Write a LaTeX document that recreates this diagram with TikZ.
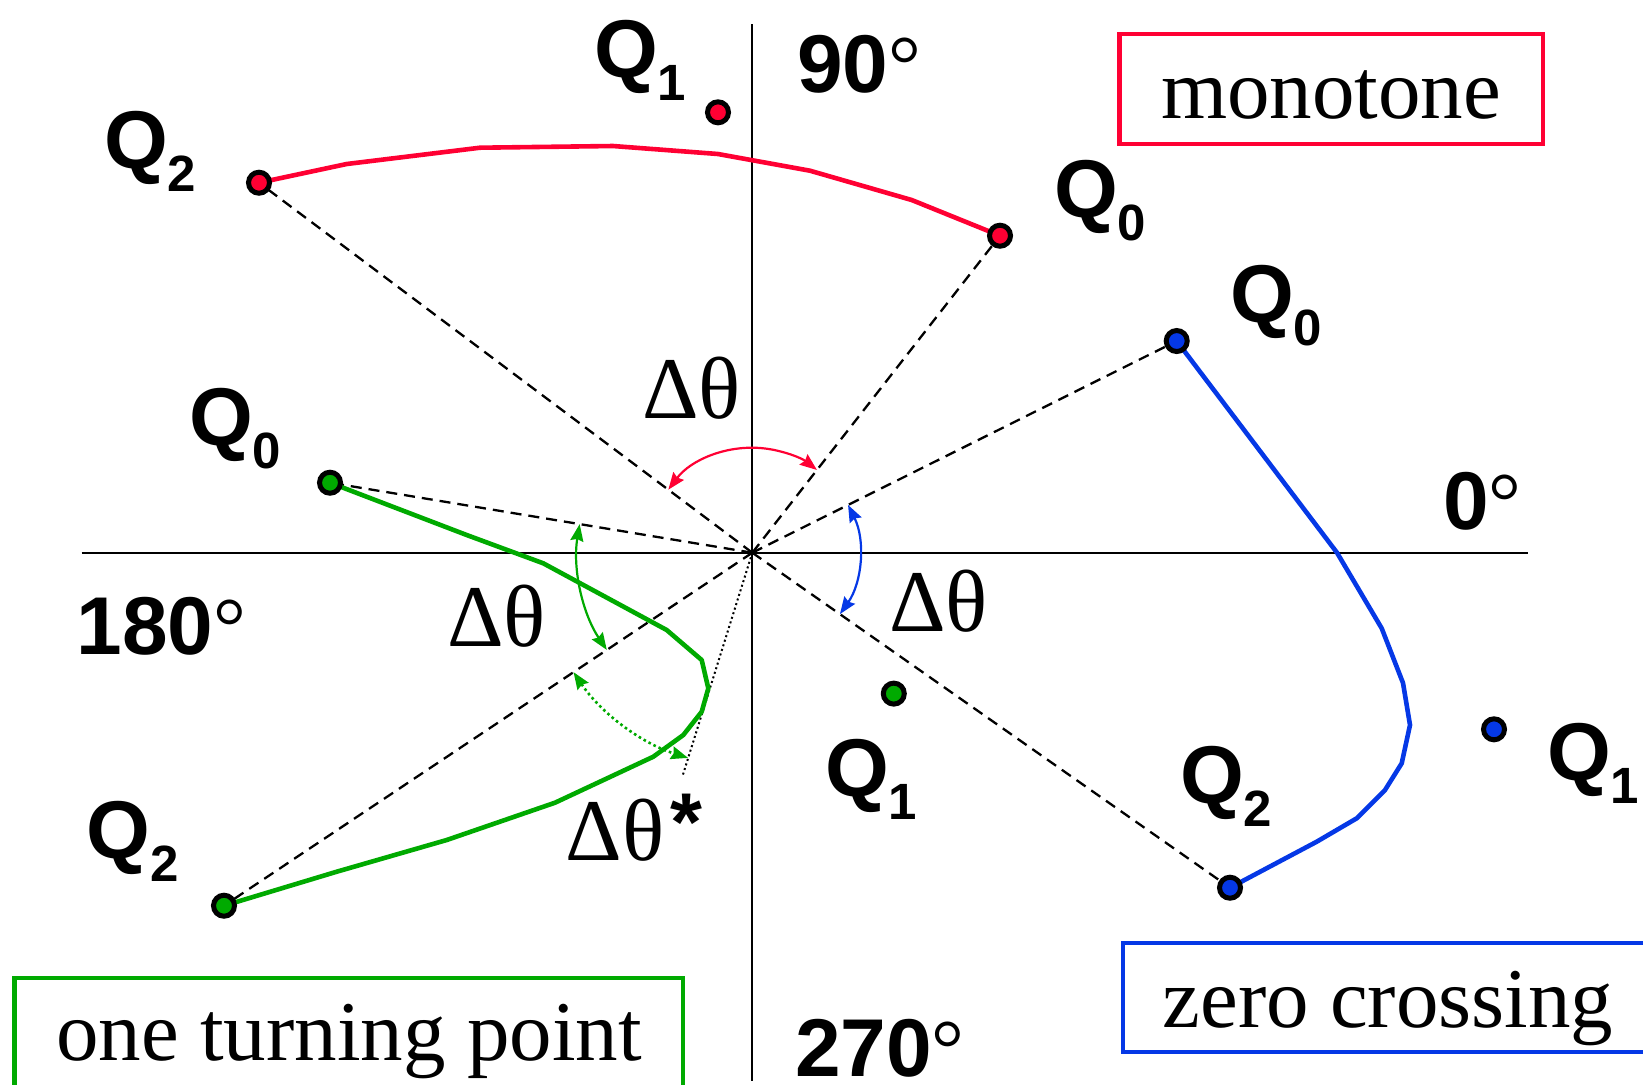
\documentclass[tikz,border=0pt]{standalone}
\usepackage{fontspec}
\setmainfont{Liberation Serif}
\newfontfamily\lsans{Liberation Sans}
\usetikzlibrary{arrows.meta,calc,backgrounds}
\definecolor{cred}{RGB}{255,0,51}
\definecolor{cblue}{RGB}{5,56,230}
\definecolor{cgreen}{RGB}{0,170,0}
\newcommand\Qlab[1]{{\lsans\bfseries\fontsize{41}{41}\selectfont Q}{\lsans\bfseries\fontsize{25.5}{25.5}\selectfont\raisebox{-11.5pt}{#1}}}
\newcommand\anglab[1]{{\lsans\bfseries\fontsize{41}{41}\selectfont #1}{\fontsize{41}{41}\selectfont °}}
\newcommand\dtheta{{\fontsize{44}{44}\selectfont Δθ}}
\begin{document}
\begin{tikzpicture}[x=0.5pt,y=0.5pt,
  dot/.style={circle, draw=black, line width=2.5pt, fill=#1, inner sep=0pt, minimum size=10.5pt},
  lab/.style={anchor=base west, inner sep=0pt, outer sep=0pt},
  curve/.style={line width=2.3pt, line join=round, draw=#1},
  ray/.style={line width=1.15pt, dash pattern=on 5.5pt off 3.5pt},
  dotray/.style={line width=1pt, dash pattern=on 1pt off 1.4pt},
  axis/.style={line width=1pt},
  tip/.tip={Stealth[length=8.5pt,width=6.5pt,inset=1pt]},
  angarc/.style={line width=1.1pt, draw=#1, tip-tip},
  boxst/.style={draw=#1, line width=2.25pt},
  boxtext/.style={anchor=base, inner sep=0pt, font=\fontsize{42.5}{42.5}\selectfont}]
\useasboundingbox (0,0) rectangle (1643,-1084);
\clip (0,0) rectangle (1643,-1084);

% points
\coordinate (O) at (752.3,-552.7);
\coordinate (xl) at (81.7,-552.7);
\coordinate (xr) at (1528,-552.7);
\coordinate (yt) at (752.3,-24);
\coordinate (yb) at (752.3,-1081);
\coordinate (dT) at (682.3,-776.7);

\node[dot=cred] (rQ2) at (259,-182.7) {};
\node[dot=cred] (rQ1) at (718,-112.3) {};
\node[dot=cred] (rQ0) at (1000,-235.7) {};
\node[dot=cblue] (bQ0) at (1176.7,-341) {};
\node[dot=cblue] (bQ1) at (1494,-729.3) {};
\node[dot=cblue] (bQ2) at (1230,-887.7) {};
\node[dot=cgreen] (gQ0) at (330,-482.7) {};
\node[dot=cgreen] (gQ1) at (893.8,-693.6) {};
\node[dot=cgreen] (gQ2) at (224,-905.7) {};

\begin{scope}[on background layer]
\draw[axis] (xl) -- (xr);
\draw[axis] (yt) -- (yb);
\draw[ray] (O) -- (rQ2.center);
\draw[ray] (O) -- (rQ0.center);
\draw[ray] (O) -- (bQ0.center);
\draw[ray] (O) -- (bQ2.center);
\draw[ray] (O) -- (gQ0.center);
\draw[ray] (O) -- (gQ2.center);
\draw[dotray] (O) -- (dT);
\draw[curve=cred] (rQ2.center) -- (346.7,-164) -- (480,-147.7) -- (613,-146) -- (718,-154) -- (810,-170.7) -- (911.7,-200) -- (rQ0.center);
\draw[curve=cblue] (bQ0.center) -- (1337,-552.7) -- (1381.7,-628.3) -- (1403,-683) -- (1410,-725) -- (1401.7,-763.3) -- (1385,-790) -- (1356.7,-818.3) -- (1316.7,-841.7) -- (bQ2.center);
\draw[curve=cgreen] (gQ0.center) -- (466.7,-535) -- (543.3,-563.3) -- (666.7,-630) -- (701.7,-660) -- (708.3,-688.3) -- (701.7,-711.7) -- (683.3,-735) -- (653.3,-756.7) -- (555,-802.7) -- (446.7,-840) -- (336.7,-871.7) -- (gQ2.center);
\draw[angarc=cred] ($(O)+(143.1:52.5pt)$) arc[start angle=143.1, end angle=52, radius=52.5pt];
\draw[angarc=cblue] ($(O)+(26.5:53.5pt)$) arc[start angle=26.5, end angle=-35, radius=53.5pt];
\draw[angarc=cgreen] ($(O)+(170.6:87.5pt)$) arc[start angle=170.6, end angle=213.75, radius=87.5pt];
\draw[angarc=cgreen, dash pattern=on 1.3pt off 1.5pt, line width=1.3pt] ($(O)+(213.75:107.5pt)$) arc[start angle=213.75, end angle=252.6, radius=107.5pt];
\end{scope}

% point labels
\node[lab] (lrQ2) at (104,-168) {\Qlab{2}};
\node[lab] (lrQ1) at (594,-77) {\Qlab{1}};
\node[lab] (lrQ0) at (1054,-217) {\Qlab{0}};
\node[lab] (lbQ0) at (1230,-322) {\Qlab{0}};
\node[lab] (lbQ1) at (1547,-780) {\Qlab{1}};
\node[lab] (lbQ2) at (1180,-803) {\Qlab{2}};
\node[lab] (lgQ0) at (189,-445) {\Qlab{0}};
\node[lab] (lgQ2) at (86.5,-858) {\Qlab{2}};
\node[lab] (lgQ1) at (825,-796) {\Qlab{1}};

% axis angle labels
\node[lab] (a90) at (797,-92) {\anglab{90}};
\node[lab] (a0) at (1443,-529) {\anglab{0}};
\node[lab] (a180) at (76.5,-654) {\anglab{180}};
\node[lab] (a270) at (795,-1076) {\anglab{270}};

% delta theta labels
\node[lab] (dR) at (642,-418) {\dtheta};
\node[lab] (dG) at (447,-646) {\dtheta};
\node[lab] (dB) at (889,-631) {\dtheta};
\node[lab] (dS) at (565.5,-860) {\dtheta\hspace{3pt}{\lsans\bfseries\fontsize{41}{41}\selectfont\raisebox{5pt}{*}}};

% category boxes
\draw[boxst=cred] (1119.5,-34) rectangle (1543,-144);
\node[boxtext] (tmono) at (1331,-118) {monotone};
\draw[boxst=cblue] (1123,-943) rectangle (1665,-1052);
\node[boxtext] (tzero) at (1388,-1027) {zero crossing};
\draw[boxst=cgreen] (14.5,-978) rectangle (683,-1110);
\node[boxtext] (tturn) at (349,-1060) {one turning point};
\end{tikzpicture}
\end{document}
